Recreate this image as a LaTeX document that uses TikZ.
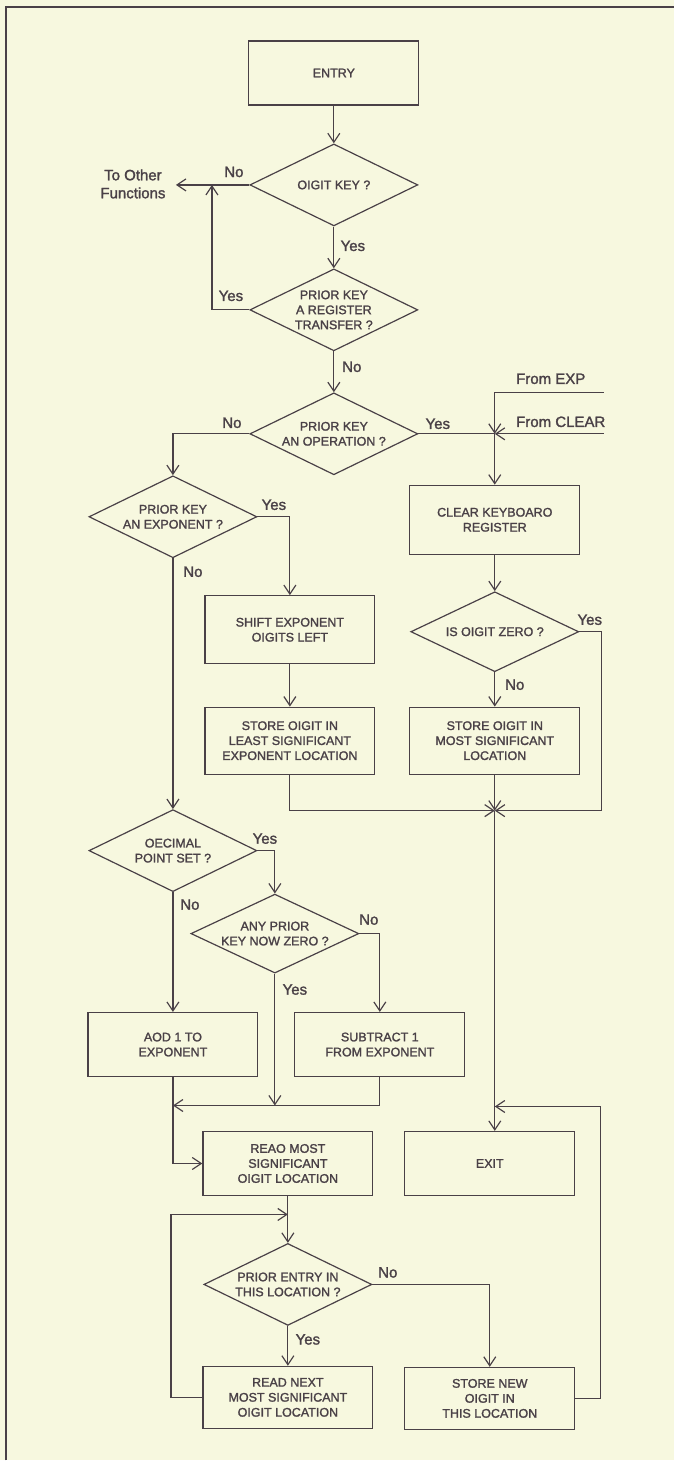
\documentclass[tikz,border=0pt]{standalone}
\usepackage{fontspec}
\setmainfont{Liberation Sans}
\newfontfamily\boxface[FakeBold=1.6]{Liberation Sans}
\usetikzlibrary{shapes.geometric,arrows.meta}

\definecolor{paper}{HTML}{F7F8DF}
\definecolor{ink}{HTML}{4A4147}

\newcommand{\boxfont}{\boxface\fontsize{12.5}{15}\selectfont}
\newcommand{\lblfont}{\boxface\fontsize{15}{18}\selectfont}

\tikzset{
  box/.style={draw=ink, line width=1.2pt, rectangle, minimum width=170pt, minimum height=64pt,
    align=center, font=\boxfont, text=ink, inner sep=0pt},
  test/.style={draw=ink, line width=1.2pt, diamond, aspect=2, minimum width=168pt, minimum height=82pt,
    align=center, font=\boxfont, text=ink, inner sep=0pt},
  lbl/.style={font=\lblfont, text=ink, inner sep=0pt},
  line/.style={draw=ink, line width=1.2pt},
  arr/.style={line, -{Straight Barb[length=9pt,width=12pt,line width=1.2pt]}}
}

\begin{document}
\begin{tikzpicture}[x=1pt, y=-1pt]

% paper and frame
\fill[paper] (0,0) rectangle (674,1461);
\draw[ink, line width=1.3pt] (6,1461) -- (6,7) -- (674,7);

% boxes and tests
\node[box] (entry) at (334,73) {ENTRY};
\node[test] (d1) at (334,185) {OIGIT KEY ?};
\node[test] (d2) at (334,310) {PRIOR KEY\\A REGISTER\\TRANSFER ?};
\node[test] (d3) at (334,434) {PRIOR KEY\\AN OPERATION ?};
\node[test] (d4) at (173,517) {PRIOR KEY\\AN EXPONENT ?};
\node[box, minimum height=69pt] (clear) at (495,520) {CLEAR KEYBOARO\\REGISTER};
\node[box, minimum height=68pt] (shift) at (290,630) {SHIFT EXPONENT\\OIGITS LEFT};
\node[test, minimum height=80pt] (d5) at (495,632) {IS OIGIT ZERO ?};
\node[box, minimum height=67pt] (least) at (290,741) {STORE OIGIT IN\\LEAST SIGNIFICANT\\EXPONENT LOCATION};
\node[box, minimum height=67pt] (most) at (495,741) {STORE OIGIT IN\\MOST SIGNIFICANT\\LOCATION};
\node[test] (d6) at (173,851) {OECIMAL\\POINT SET ?};
\node[test, minimum height=79pt] (d7) at (275,934) {ANY PRIOR\\KEY NOW ZERO ?};
\node[box] (add) at (173,1045) {AOD 1 TO\\EXPONENT};
\node[box] (sub) at (380,1045) {SUBTRACT 1\\FROM EXPONENT};
\node[box] (readmost) at (288,1164) {REAO MOST\\SIGNIFICANT\\OIGIT LOCATION};
\node[box] (exit) at (490,1164) {EXIT};
\node[test] (d8) at (288,1285) {PRIOR ENTRY IN\\THIS LOCATION ?};
\node[box, minimum height=62pt] (readnext) at (288,1398) {READ NEXT\\MOST SIGNIFICANT\\OIGIT LOCATION};
\node[box, minimum height=62pt] (storenew) at (490,1399) {STORE NEW\\OIGIT IN\\THIS LOCATION};

% outside texts
\node[lbl, align=center] (other) at (133,184) {To Other\\Functions};
\node[lbl] (fromexp) at (551,379) {From EXP};
\node[lbl] (fromclr) at (561,422) {From CLEAR};

% turning points
\coordinate (otherin) at (176,185);
\coordinate (yesup) at (212,185);
\coordinate (jn) at (495,434);
\coordinate (expin) at (604,393);
\coordinate (clrin) at (604,434);
\coordinate (jm) at (495,811);
\coordinate (zero) at (602,811);
\coordinate (mg) at (173,1106);
\coordinate (mgy) at (275,1106);
\coordinate (ret) at (601,1107);
\coordinate (back) at (171,1215);

% connectors
\draw[arr] (entry) -- (d1);
\draw[arr] (d1.west) -- (otherin);
\draw[arr] (d2.west) -| (yesup);
\draw[arr] (d1) -- (d2);
\draw[arr] (d2) -- (d3);
\draw[arr] (d3.west) -| (d4.north);
\draw[line] (d3.east) -- (jn);
\draw[arr] (expin) -| (jn);
\draw[arr] (clrin) -- (jn);
\draw[arr] (jn) -- (clear);
\draw[arr] (d4.east) -| (shift.north);
\draw[arr] (shift) -- (least);
\draw[arr] (clear) -- (d5);
\draw[arr] (d5) -- (most);
\draw[arr] (most) -- (jm);
\draw[arr] (least.south) |- (jm);
\draw[arr] (d5.east) -| (zero) -- (jm);
\draw[arr] (d4.south) -- (d6.north);
\draw[arr] (d6.east) -| (d7.north);
\draw[arr] (d6.south) -- (add.north);
\draw[arr] (d7.east) -| (sub.north);
\draw[arr] (d7.south) -- (mgy);
\draw[arr] (sub.south) |- (mg);
\draw[arr] (add.south) |- (readmost.west);
\draw[arr] (jm) -- (jm |- exit.north);
\draw[arr] (storenew.east) -| (ret) -- (ret -| jm);
\draw[arr] (readmost) -- (d8);
\draw[arr] (readnext.west) -| (back) -- (back -| d8.north);
\draw[arr] (d8) -- (readnext);
\draw[arr] (d8.east) -| (storenew.north);

% yes / no
\node[lbl] (n1) at (234,172) {No};
\node[lbl] (y1) at (353,246) {Yes};
\node[lbl] (y2) at (231,296) {Yes};
\node[lbl] (n2) at (352,367) {No};
\node[lbl] (n3) at (232,423) {No};
\node[lbl] (y3) at (438,424) {Yes};
\node[lbl] (y4) at (274,505) {Yes};
\node[lbl] (n4) at (193,572) {No};
\node[lbl] (y5) at (590,620) {Yes};
\node[lbl] (n5) at (515,685) {No};
\node[lbl] (y6) at (265,839) {Yes};
\node[lbl] (n6) at (190,905) {No};
\node[lbl] (n7) at (369,920) {No};
\node[lbl] (y7) at (295,990) {Yes};
\node[lbl] (n8) at (388,1273) {No};
\node[lbl] (y8) at (308,1340) {Yes};

\end{tikzpicture}
\end{document}
